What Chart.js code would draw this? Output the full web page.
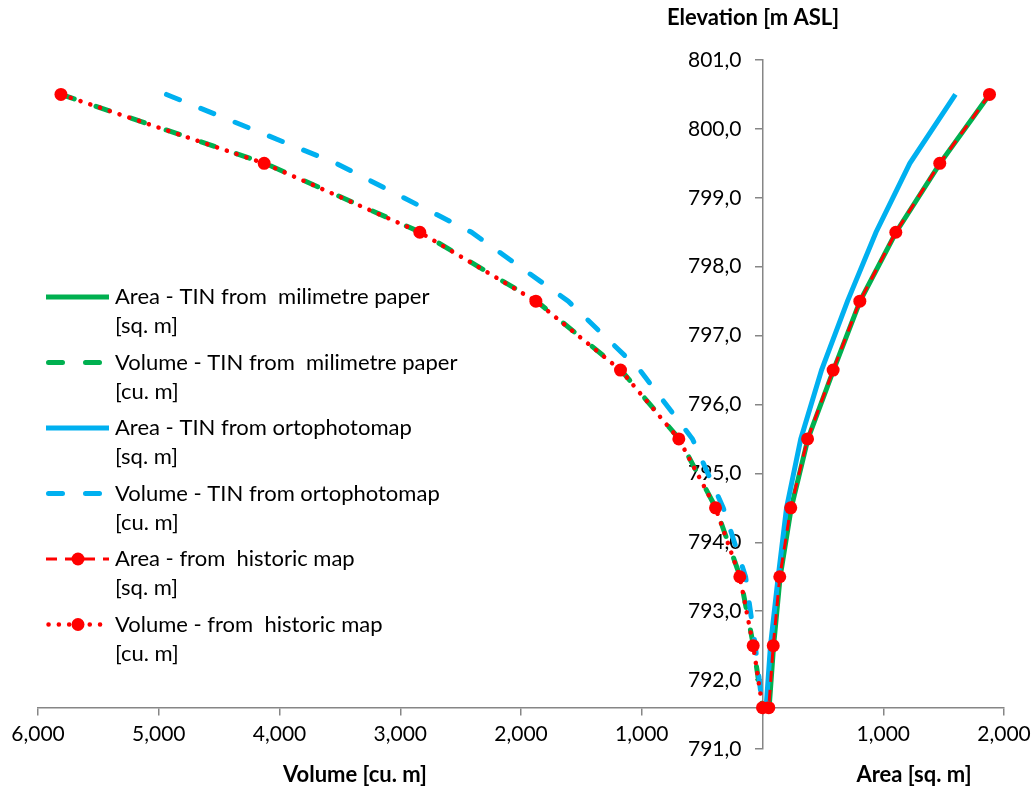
<!DOCTYPE html>
<html>
<head>
<meta charset="utf-8">
<script src="https://cdn.jsdelivr.net/npm/chart.js@4.4.0/dist/chart.umd.min.js"></script>
<style>
  html, body { margin: 0; padding: 0; background: #fff; }
  #wrap { width: 1032px; height: 787px; position: relative; }
</style>
</head>
<body>
<div id="wrap"><canvas id="chart"></canvas></div>
<script>
// elevation of each level [m ASL], top to bottom
const elevations = [800.5, 799.5, 798.5, 797.5, 796.5, 795.5, 794.5, 793.5, 792.5, 791.6];

// TIN from milimetre paper
const areaMilimetre = [1880, 1470, 1106, 808, 588, 376, 238, 146, 92, 55];
const volumeMilimetre = [5810, 4120, 2832, 1872, 1172, 690, 386, 185, 75, 0];

// TIN from ortophotomap
const areaOrtho = [1598, 1220, 940, 704, 489, 317, 199, 130, 66, 30];
const volumeOrtho = [4936, 3530, 2410, 1609, 1016, 580, 325, 140, 60, 0];

// from historic map
const areaHistoric = [1880, 1468, 1104, 806, 585, 373, 234, 143, 89, 52];
const volumeHistoric = [5810, 4127, 2838, 1877, 1176, 693, 389, 188, 77, 0];

const legendLines = [
  ['Area - TIN from  milimetre paper', '[sq. m]'],
  ['Volume - TIN from  milimetre paper', '[cu. m]'],
  ['Area - TIN from ortophotomap', '[sq. m]'],
  ['Volume - TIN from ortophotomap', '[cu. m]'],
  ['Area - from  historic map', '[sq. m]'],
  ['Volume - from  historic map', '[cu. m]']
];

const volumeTicks = [-6000, -5000, -4000, -3000, -2000, -1000, 0, 1000, 2000];

const GREEN = '#00B050';
const BLUE = '#00B0F0';
const RED = '#FF0000';
const FONT = 'Lato';

// volumes go to the left of the elevation axis
const toPoints = (values, sign) => values.map((v, i) => ({ x: sign * v, y: elevations[i] }));

const datasets = [
  {
    label: legendLines[0].join(' '),
    data: toPoints(areaMilimetre, 1),
    borderColor: GREEN, borderWidth: 5,
    pointRadius: 0, order: 6
  },
  {
    label: legendLines[1].join(' '),
    data: toPoints(volumeMilimetre, -1),
    borderColor: GREEN, borderWidth: 5,
    borderDash: [14, 23], borderCapStyle: 'round',
    pointRadius: 0, order: 5
  },
  {
    label: legendLines[2].join(' '),
    data: toPoints(areaOrtho, 1),
    borderColor: BLUE, borderWidth: 5,
    pointRadius: 0, order: 4
  },
  {
    label: legendLines[3].join(' '),
    data: toPoints(volumeOrtho, -1),
    borderColor: BLUE, borderWidth: 5,
    borderDash: [14, 23], borderCapStyle: 'round',
    pointRadius: 0, order: 3
  },
  {
    label: legendLines[4].join(' '),
    data: toPoints(areaHistoric, 1),
    borderColor: RED, borderWidth: 3,
    borderDash: [11, 8],
    pointRadius: 6.5, pointBackgroundColor: RED, pointBorderWidth: 0, order: 2
  },
  {
    label: legendLines[5].join(' '),
    data: toPoints(volumeHistoric, -1),
    borderColor: RED, borderWidth: 4.5,
    borderDash: [0.1, 10.2], borderCapStyle: 'round',
    pointRadius: 6.5, pointBackgroundColor: RED, pointBorderWidth: 0, order: 1
  }
];

const sideLegend = {
  id: 'sideLegend',
  afterDraw(chart) {
    const ctx = chart.ctx;
    chart.data.datasets.forEach((ds, i) => {
      const y = 297 + i * 65.5;
      ctx.save();
      ctx.strokeStyle = ds.borderColor;
      ctx.lineWidth = ds.borderWidth;
      ctx.lineCap = ds.borderCapStyle || 'butt';
      ctx.setLineDash(ds.borderDash || []);
      ctx.beginPath();
      ctx.moveTo(ds.borderCapStyle === 'round' ? 48.5 : 46, y);
      ctx.lineTo(109, y);
      ctx.stroke();
      if (ds.pointRadius > 0) {
        ctx.fillStyle = ds.pointBackgroundColor;
        ctx.beginPath();
        ctx.arc(78, y, ds.pointRadius, 0, Math.PI * 2);
        ctx.fill();
      }
      ctx.fillStyle = '#000';
      ctx.font = '22px ' + FONT;
      ctx.textBaseline = 'middle';
      ctx.textAlign = 'left';
      ctx.fillText(legendLines[i][0], 115, y);
      ctx.fillText(legendLines[i][1], 115, y + 29);
      ctx.restore();
    });
  }
};

const axisTitles = {
  id: 'axisTitles',
  afterDraw(chart) {
    const ctx = chart.ctx;
    ctx.save();
    ctx.fillStyle = '#000';
    ctx.font = 'bold 22px ' + FONT;
    ctx.textAlign = 'center';
    ctx.textBaseline = 'middle';
    ctx.fillText('Elevation [m ASL]', 753, 18);
    ctx.fillText('Volume [cu. m]', 355, 775);
    ctx.fillText('Area [sq. m]', 914, 775);
    ctx.restore();
  }
};

new Chart(document.getElementById('chart'), {
  type: 'line',
  data: { datasets },
  options: {
    responsive: true,
    maintainAspectRatio: false,
    animation: false,
    layout: { padding: { left: 38, right: 28, top: 60, bottom: 38 } },
    plugins: { legend: { display: false }, tooltip: { enabled: false } },
    elements: { line: { tension: 0, fill: false } },
    scales: {
      x: {
        type: 'linear',
        min: -6000, max: 2000,
        position: { y: 791.6 },
        afterBuildTicks: (axis) => { axis.ticks = volumeTicks.map(v => ({ value: v })); },
        afterFit: (axis) => { axis.paddingLeft = 0; axis.paddingRight = 0; },
        ticks: {
          color: '#000',
          font: { family: FONT, size: 21 },
          padding: 7,
          callback: (v) => v === 0 ? '' : Math.abs(v).toLocaleString('en-US')
        },
        grid: { drawOnChartArea: false, drawTicks: true, tickLength: 7, color: '#868686', lineWidth: 1.5 },
        border: { color: '#868686', width: 1.5 }
      },
      y: {
        type: 'linear',
        min: 791, max: 801,
        position: { x: 0 },
        ticks: {
          stepSize: 1,
          color: '#000',
          font: { family: FONT, size: 21 },
          // keep the labels clear of the axis line
          callback: (v) => v.toFixed(1).replace('.', ',') + '\u2002\u2002'
        },
        grid: { drawOnChartArea: false, drawTicks: true, tickLength: 7, color: '#868686', lineWidth: 1.5 },
        border: { color: '#868686', width: 1.5 }
      }
    }
  },
  plugins: [sideLegend, axisTitles]
});
</script>
</body>
</html>
